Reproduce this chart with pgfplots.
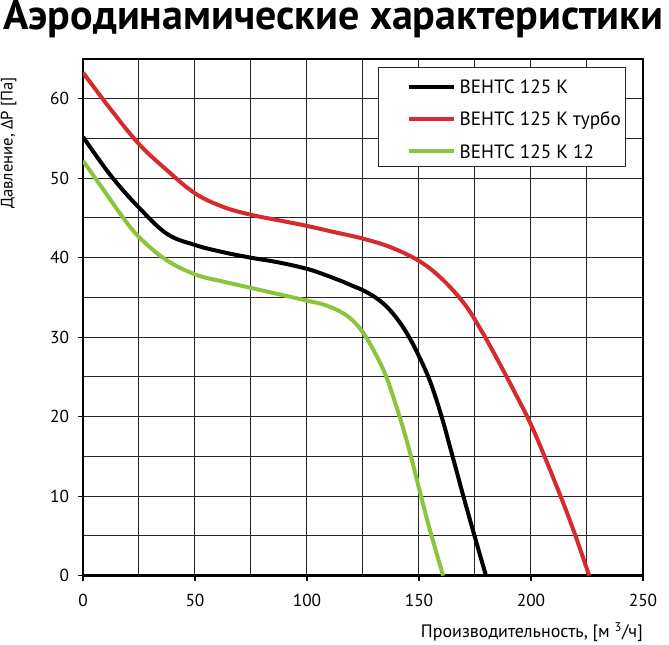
\documentclass[border=0pt]{standalone}
\usepackage{fontspec}
\setmainfont{PT Sans}
\usepackage{pgfplots}
\pgfplotsset{compat=1.18}
\definecolor{cred}{HTML}{D52B2E}
\definecolor{cgreen}{HTML}{8CC43F}
\begin{document}
\begin{tikzpicture}
\path[use as bounding box] (0,0) rectangle (501.75pt,483.75pt);
\begin{axis}[
  at={(62.25pt,52pt)}, anchor=south west,
  scale only axis, width=420pt, height=387.5pt,
  xmin=0, xmax=250, ymin=0, ymax=65,
  xtick={0,50,...,250}, ytick={0,10,...,60},
  minor xtick={25,75,...,225}, minor ytick={5,15,...,65},
  grid=both,
  major grid style={black!85, line width=0.75pt},
  minor grid style={black!85, line width=0.75pt},
  tick pos=left, tick align=outside,
  major tick length=4pt, minor tick length=0pt,
  every tick/.style={black, line width=0.8pt},
  axis line style={line width=1.9pt},
  /pgf/number format/assume math mode=true,
  ticklabel style={font=\fontsize{13}{15}\selectfont},
  yticklabel style={xshift=-3pt},
  xticklabel style={yshift=-6pt},
  legend style={at={(0.9696,0.9845)}, anchor=north east, draw=black!85,
    line width=0.75pt, font=\fontsize{14.4}{17}\selectfont,
    row sep=6.8pt, inner xsep=3.5pt, inner ysep=4pt,
    nodes={inner sep=0pt, text height=15.5pt, text depth=2pt},
    /tikz/every odd column/.append style={column sep=3pt}},
  legend cell align=left,
  legend image code/.code={\path (-18.1pt,1.5pt) (0pt,-1.5pt); \draw[#1, line width=3pt] (0pt,-1.5pt) -- (33.2pt,-1.5pt);},
]
\addplot[black, line width=3pt, smooth, tension=0.6] coordinates {
(0,55.2) (12.5,50.3) (25,46.3) (37.5,43.0) (50,41.6) (62.5,40.7) (75,40.0)
(87.5,39.4) (100,38.6) (107.5,37.9) (115,37.1) (120,36.5) (125,35.9)
(130,35.1) (135,34.0) (140,32.4) (145,30.3) (150,27.6) (155,24.4)
(160,20.1) (165,15) (170,9.8) (175,4.8) (179.9,0)};
\addlegendentry{ВЕНТС 125 К}
\addplot[cred, line width=3pt, smooth, tension=0.6] coordinates {
(0,63.3) (12,58.8) (25,54.3) (37.5,51.0) (50,48.1) (62.5,46.4) (75,45.4)
(87.5,44.7) (100,44.0) (112.5,43.2) (125,42.4) (137.5,41.3) (150,39.6)
(160,37.4) (170,34.3) (177.5,31.0) (185,27.2) (192.5,23.2) (200,19.0)
(207.5,14.0) (215,8.7) (220,4.9) (226,0)};
\addlegendentry{ВЕНТС 125 К турбо}
\addplot[cgreen, line width=3pt, smooth, tension=0.6] coordinates {
(0,52.2) (9,48.6) (18,45) (25,42.6) (36.7,39.8) (50,37.9) (62.5,37.0)
(75,36.2) (87.5,35.4) (100,34.6) (107.5,34.1) (115,33.2) (120,32.2)
(125,30.6) (130,28.2) (135,25.3) (140,21.2) (145,16.5) (150,11.0)
(155,5.6) (160.8,0)};
\addlegendentry{ВЕНТС 125 К 12}
\end{axis}
\node[anchor=base west, font=\bfseries\fontsize{31.5}{36}\selectfont, inner sep=0pt]
  at (2.25pt,461.25pt) {Аэродинамические характеристики};
\node[anchor=base east, font=\fontsize{13.5}{16}\selectfont, inner sep=0pt]
  at (482.25pt,5.25pt) {Производительность, [м \textsuperscript{3}/ч]};
\node[rotate=90, anchor=center, font=\fontsize{12.5}{15}\selectfont, inner sep=0pt]
  at (6.4pt,376.5pt) {Давление, ΔP [Па]};
\end{tikzpicture}
\end{document}
